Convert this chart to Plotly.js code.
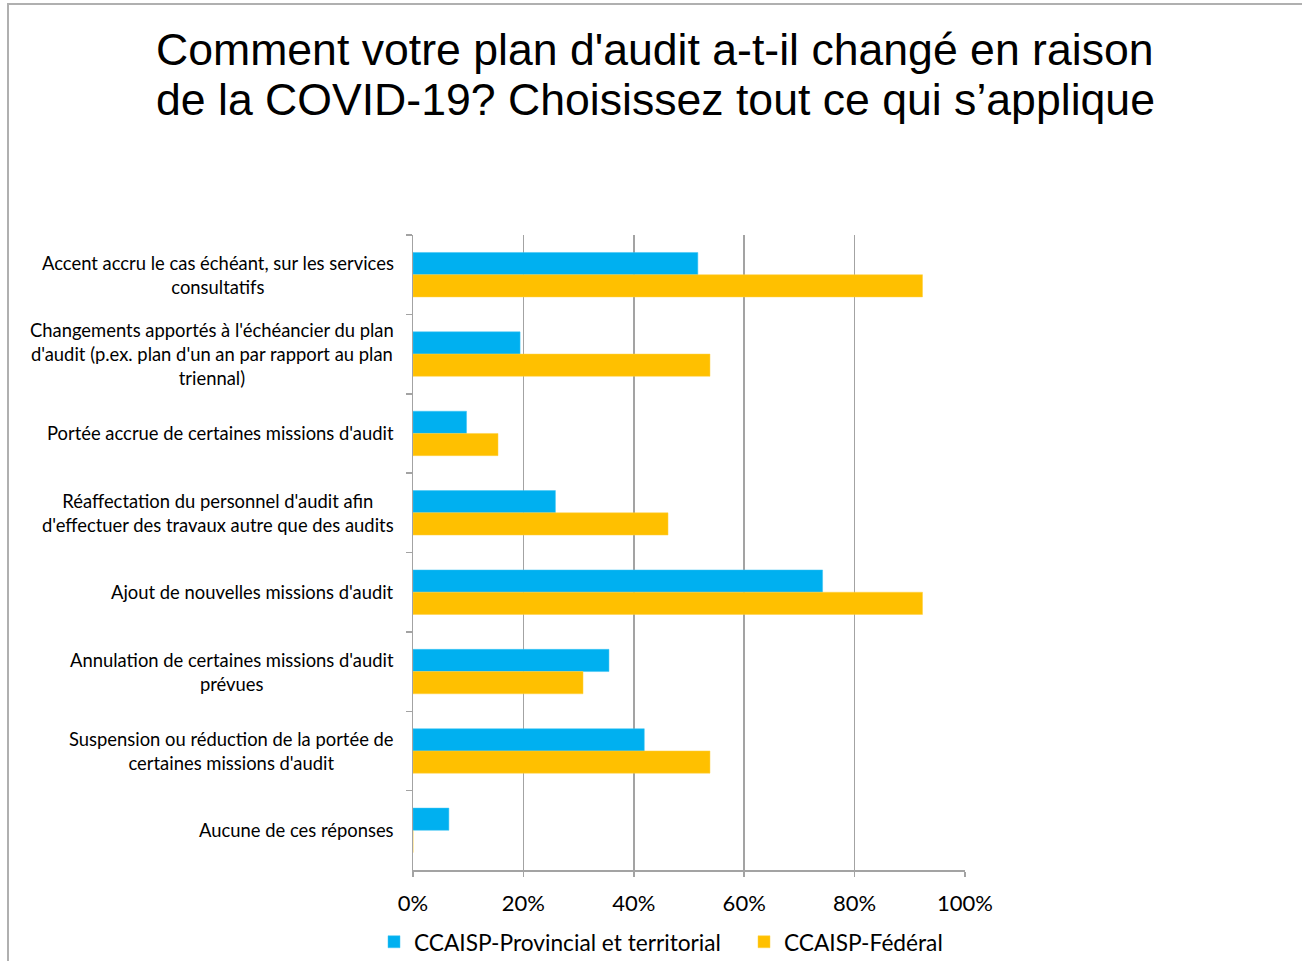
<!DOCTYPE html>
<html>
<head>
<meta charset="utf-8">
<script src="https://cdn.plot.ly/plotly-3.0.1.min.js"></script>
<style>
html,body{margin:0;padding:0;background:#fff;}
#wrap{position:relative;width:1302px;height:961px;overflow:hidden;}
#chart{position:absolute;left:0;top:0;width:1302px;height:961px;}
#frame{position:absolute;left:7px;top:3px;width:1400px;height:1100px;border-top:2px solid #b0b0b0;border-left:2px solid #b0b0b0;pointer-events:none;}
</style>
</head>
<body>
<div id="wrap"><div id="chart"></div><div id="frame"></div></div>
<script>
const categories = [
  "Accent accru le cas échéant, sur les services<br>consultatifs",
  "Changements apportés à l'échéancier du plan<br>d'audit (p.ex. plan d'un an par rapport au plan<br>triennal)",
  "Portée accrue de certaines missions d'audit",
  "Réaffectation du personnel d'audit afin<br>d'effectuer des travaux autre que des audits",
  "Ajout de nouvelles missions d'audit",
  "Annulation de certaines missions d'audit<br>prévues",
  "Suspension ou réduction de la portée de<br>certaines missions d'audit",
  "Aucune de ces réponses"
];
const provincial = [0.516, 0.194, 0.097, 0.258, 0.742, 0.355, 0.419, 0.065];
const federal = [0.923, 0.538, 0.154, 0.462, 0.923, 0.308, 0.538, 0];
const seriesNames = ["CCAISP-Provincial et territorial", "CCAISP-Fédéral"];
const xTickVals = [0, 0.2, 0.4, 0.6, 0.8, 1.0];
const xTickText = ["0%", "20%", "40%", "60%", "80%", "100%"];
const titleLines = ["Comment votre plan d'audit a-t-il changé en raison", "de la COVID-19? Choisissez tout ce qui s’applique"];

const bodyFont = "Lato, 'Open Sans', sans-serif";
const gridCol = "#a3a3a3";
const plotTop = 235, plotBottom = 870, plotH = plotBottom - plotTop;

const traces = [
  {type:'bar', orientation:'h', name:seriesNames[0], y:categories, x:provincial,
   marker:{color:'#00B0F0', line:{color:'#3cc4f4', width:0.5}}, hoverinfo:'x+y'},
  {type:'bar', orientation:'h', name:seriesNames[1], y:categories, x:federal,
   marker:{color:'#FFC000', line:{color:'#ffd040', width:0.5}}, hoverinfo:'x+y'}
];

const annotations = categories.map((c, i) => ({
  xref:'paper', yref:'y', x:0, y:i, xanchor:'right', yanchor:'middle', xshift:-17,
  text:c, showarrow:false, align:'center',
  font:{family:bodyFont, size:18.4, color:'#000'}
}));
const titleCenters = [49, 100];
titleLines.forEach((t, i) => annotations.push({
  xref:'paper', yref:'paper', x:(655-413)/552, y:(plotBottom-titleCenters[i])/plotH, xanchor:'center', yanchor:'middle',
  text:t, showarrow:false, font:{family:"'Liberation Sans', Arial, sans-serif", size:44.6, color:'#000'}
}));

const layout = {
  width:1302, height:961,
  margin:{l:413, r:337, t:plotTop, b:961-plotBottom, autoexpand:false},
  paper_bgcolor:'#fff', plot_bgcolor:'#fff',
  barmode:'group', bargap:0.44, bargroupgap:0,
  showlegend:true,
  legend:{orientation:'h', x:(374-413)/552, xanchor:'left', y:(plotBottom-942)/plotH, yanchor:'middle',
          font:{family:bodyFont, size:22.7, color:'#000'}, traceorder:'normal', itemwidth:30,
          entrywidth:325, entrywidthmode:'pixels'},
  xaxis:{range:[0,1], tickvals:xTickVals, ticktext:xTickText, showgrid:true, gridcolor:gridCol, gridwidth:1.5,
         zeroline:false, showline:true, linecolor:gridCol, linewidth:1.5, ticks:'outside', ticklen:5,
         tickcolor:gridCol, tickwidth:1.5, ticklabelstandoff:8,
         tickfont:{family:bodyFont, size:22, color:'#000'}, fixedrange:true},
  yaxis:{type:'category', autorange:'reversed', showticklabels:false, ticks:'outside', ticklen:6,
         tickson:'boundaries', tickcolor:gridCol, tickwidth:1.5, showline:true, linecolor:gridCol, linewidth:1.5,
         showgrid:false, zeroline:false, fixedrange:true},
  annotations:annotations
};

Plotly.newPlot('chart', traces, layout, {displayModeBar:false, staticPlot:true});
</script>
</body>
</html>
